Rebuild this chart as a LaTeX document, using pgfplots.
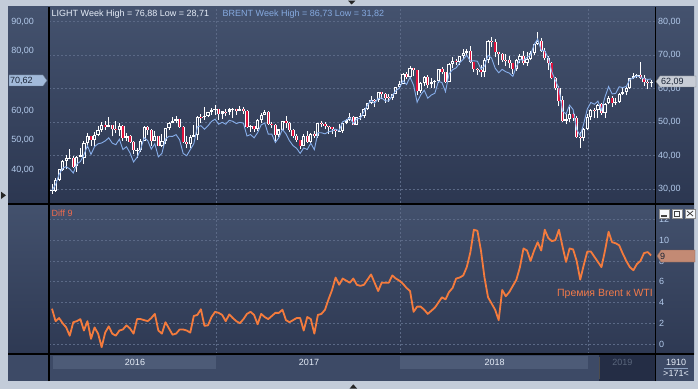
\documentclass[border=0pt]{standalone}
\usepackage{fontspec}
\setmainfont{Liberation Sans}
\usepackage{pgfplots}
\usepackage{pgfplotstable}
\pgfplotsset{compat=1.18}

\definecolor{outerc}{HTML}{C3CCD9}
\definecolor{ptop}{HTML}{44526E}
\definecolor{pbot}{HTML}{2C3751}
\definecolor{btop}{HTML}{43516D}
\definecolor{bbot}{HTML}{2E3953}
\definecolor{datec}{HTML}{3D4A66}
\definecolor{blockc}{HTML}{4D5B77}
\definecolor{y19c}{HTML}{242D45}
\definecolor{gridc}{HTML}{5B6986}
\definecolor{tickc}{HTML}{B2C9EA}
\definecolor{upin}{HTML}{35425E}
\definecolor{candred}{HTML}{E0123C}
\definecolor{brentc}{HTML}{87AEEA}
\definecolor{diffc}{HTML}{F47B3D}
\definecolor{lightlab}{HTML}{E6EDF8}
\definecolor{brentlab}{HTML}{86AAE0}
\definecolor{difflab}{HTML}{F06B4E}
\definecolor{premc}{HTML}{F27A4A}
\definecolor{marktext}{HTML}{1A2436}
\definecolor{markblue}{HTML}{A2BADA}
\definecolor{markgrey}{HTML}{C8CDD6}
\definecolor{marksalm}{HTML}{C38A74}

\pgfplotstableread{
i o h l c b d
0 29.44 31.50 28.71 29.64 33.04 3.40
1 29.60 33.30 29.30 32.78 34.98 2.20
2 32.80 36.20 32.40 35.92 38.42 2.50
3 35.90 38.70 35.50 38.50 40.50 2.00
4 38.50 40.20 36.00 39.44 41.04 1.60
5 39.40 41.90 38.90 39.46 40.26 0.80
6 39.40 39.90 36.30 36.79 38.89 2.10
7 36.90 39.90 35.20 39.72 41.92 2.20
8 39.70 42.40 39.60 40.36 42.76 2.40
9 39.40 44.50 37.60 43.73 45.03 1.30
10 43.70 46.80 42.30 45.92 48.12 2.20
11 45.90 46.00 43.00 44.66 45.16 0.50
12 44.70 47.00 43.00 46.21 47.81 1.60
13 46.20 48.90 45.80 47.75 48.75 1.00
14 47.80 50.20 47.20 49.33 49.03 -0.30
15 49.30 50.30 47.80 48.62 49.72 1.10
16 48.60 51.70 48.50 49.07 50.77 1.70
17 49.10 49.30 45.80 47.98 48.98 1.00
18 48.00 50.50 46.70 47.64 48.44 0.80
19 47.60 49.80 45.80 48.99 50.29 1.30
20 49.00 49.30 44.40 45.41 46.81 1.40
21 45.40 46.80 44.30 45.95 47.75 1.80
22 46.00 46.30 43.80 44.19 45.69 1.50
23 44.20 44.30 40.60 41.60 42.60 1.00
24 41.60 42.20 39.20 41.80 44.20 2.40
25 41.80 44.90 41.20 44.49 46.89 2.40
26 44.50 48.80 44.40 48.52 50.82 2.30
27 48.50 48.80 46.30 47.64 49.84 2.20
28 47.60 47.90 43.00 44.44 46.94 2.50
29 44.40 47.30 44.30 45.88 48.78 2.90
30 45.90 46.00 42.80 43.03 44.33 1.30
31 43.00 46.50 42.60 44.48 45.48 1.00
32 44.50 48.30 43.60 48.24 50.34 2.10
33 48.20 50.00 47.80 49.81 51.31 1.50
34 49.80 51.60 49.70 50.35 51.25 0.90
35 50.40 51.90 49.70 50.85 51.85 1.00
36 50.90 50.90 48.30 48.70 50.10 1.40
37 48.70 48.90 43.90 44.07 45.47 1.40
38 44.10 45.90 42.20 43.41 44.71 1.30
39 43.40 46.20 42.20 45.69 46.79 1.10
40 45.70 49.20 45.60 46.06 48.76 2.70
41 46.10 51.90 44.80 51.68 54.48 2.80
42 51.70 52.40 49.90 51.50 54.85 3.35
43 51.50 54.50 50.70 51.90 53.65 1.75
44 51.90 53.20 51.60 53.02 54.82 1.80
45 53.00 54.30 52.20 53.72 56.32 2.60
46 53.70 55.20 52.10 53.99 57.09 3.10
47 54.00 54.10 50.70 52.37 55.37 3.00
48 52.40 53.30 50.90 53.22 56.02 2.80
49 53.20 54.00 51.80 53.17 55.37 2.20
50 53.20 54.20 52.20 53.83 56.68 2.85
51 53.80 54.30 51.20 53.86 56.36 2.50
52 53.90 54.00 52.20 53.40 55.60 2.20
53 53.40 54.90 53.30 53.99 55.99 2.00
54 54.00 54.60 52.60 53.33 55.73 2.40
55 53.30 53.60 48.30 48.49 51.39 2.90
56 48.50 49.10 47.10 48.78 51.88 3.10
57 48.80 49.00 47.10 47.97 50.77 2.80
58 48.00 50.90 47.40 50.60 52.50 1.90
59 50.60 52.90 49.80 52.24 55.14 2.90
60 52.20 53.80 52.10 53.18 55.78 2.60
61 53.20 53.30 49.30 49.62 52.02 2.40
62 49.60 50.20 48.20 49.33 52.03 2.70
63 49.30 49.60 43.80 46.22 49.22 3.00
64 46.20 48.10 45.60 47.84 50.84 3.00
65 47.80 50.50 47.70 50.33 53.63 3.30
66 50.30 52.00 48.20 49.80 52.10 2.30
67 49.80 50.20 47.00 47.66 49.76 2.10
68 47.70 48.00 45.20 45.83 48.13 2.30
69 45.80 46.50 44.20 44.74 47.24 2.50
70 44.70 44.80 42.05 43.01 45.51 2.50
71 43.00 46.40 42.90 46.04 47.34 1.30
72 46.00 47.30 43.80 44.23 46.83 2.60
73 44.20 46.80 43.90 46.54 48.94 2.40
74 46.50 47.40 45.40 45.77 46.77 1.00
75 45.80 49.90 45.40 49.71 52.51 2.80
76 49.70 50.40 48.50 49.58 52.48 2.90
77 49.60 50.20 48.10 48.82 52.12 3.30
78 48.80 49.00 46.50 48.51 52.81 4.30
79 48.50 48.70 46.60 47.87 53.07 5.20
80 47.90 48.00 45.60 47.29 53.69 6.40
81 47.30 49.40 47.10 47.48 53.18 5.70
82 47.50 50.20 46.80 49.89 56.19 6.30
83 49.90 51.00 49.40 50.66 56.76 6.10
84 50.70 52.90 50.40 51.67 57.57 5.90
85 51.70 51.90 49.10 49.29 55.59 6.30
86 49.30 51.60 49.10 51.45 57.15 5.70
87 51.50 52.80 50.70 51.84 57.44 5.60
88 51.80 54.20 51.30 53.90 59.60 5.70
89 53.90 55.70 53.80 55.64 61.84 6.20
90 55.60 57.70 55.30 56.74 63.44 6.70
91 56.70 57.00 54.70 56.55 62.45 5.90
92 56.60 59.00 56.10 58.95 64.05 5.10
93 59.00 59.10 56.80 58.36 64.26 5.90
94 58.40 58.80 55.80 57.36 63.26 5.90
95 57.40 58.40 56.10 57.30 63.20 5.90
96 57.30 58.50 56.60 58.47 65.07 6.60
97 58.50 60.50 58.30 60.42 66.72 6.30
98 60.40 62.20 60.10 61.44 67.54 6.10
99 61.40 64.80 61.30 64.30 70.10 5.80
100 64.30 64.90 63.00 63.37 68.77 5.40
101 63.40 66.70 63.00 66.14 71.24 5.10
102 66.10 66.30 63.70 65.45 68.55 3.10
103 65.50 65.60 58.10 59.20 62.80 3.60
104 59.20 62.00 58.80 61.68 65.28 3.60
105 61.70 63.70 60.70 63.55 66.85 3.30
106 63.60 64.20 60.20 61.25 64.15 2.90
107 61.30 63.30 60.20 62.04 65.24 3.20
108 62.00 62.60 60.10 62.34 65.84 3.50
109 62.30 66.00 61.80 65.88 69.88 4.00
110 65.90 66.60 64.30 64.94 69.44 4.50
111 64.90 65.00 61.80 62.06 66.36 4.30
112 62.10 67.70 62.00 67.39 72.39 5.00
113 67.40 69.60 66.10 68.38 73.78 5.40
114 68.40 69.00 67.20 68.10 74.40 6.30
115 68.10 69.80 67.10 69.72 76.12 6.40
116 69.70 71.90 69.00 70.70 77.30 6.60
117 70.70 72.00 70.10 71.28 78.68 7.40
118 71.30 72.90 67.60 67.88 76.68 8.80
119 67.90 68.00 65.00 65.81 76.81 11.00
120 65.80 66.30 64.20 65.74 76.64 10.90
121 65.70 67.10 63.60 65.06 74.06 9.00
122 65.10 69.30 63.60 68.58 74.98 6.40
123 68.60 74.50 67.60 74.15 78.65 4.50
124 74.20 75.30 72.40 73.80 77.70 3.90
125 73.80 74.70 69.60 71.01 74.31 3.30
126 71.00 71.10 67.00 70.46 72.76 2.30
127 70.50 70.60 68.00 68.69 73.89 5.20
128 68.70 70.50 66.90 68.49 73.09 4.60
129 68.50 69.90 66.30 67.63 72.63 5.00
130 67.60 67.80 64.40 65.91 71.51 5.60
131 65.90 68.90 65.40 68.72 74.92 6.20
132 68.70 70.40 67.80 69.80 77.20 7.40
133 69.80 71.40 67.00 67.75 76.95 9.20
134 67.80 71.00 66.90 68.99 77.99 9.00
135 69.00 71.40 68.50 70.78 78.78 8.00
136 70.80 73.40 70.10 73.25 82.25 9.00
137 73.30 76.88 73.00 74.34 84.14 9.80
138 74.30 75.20 70.90 71.34 80.34 9.00
139 71.30 72.30 68.50 69.12 80.12 11.00
140 69.10 69.70 65.70 67.59 77.79 10.20
141 67.60 68.00 62.80 63.14 73.04 9.90
142 63.10 63.60 59.50 60.19 70.19 10.00
143 60.20 60.80 54.80 56.46 67.46 11.00
144 56.50 57.90 50.20 50.42 59.82 9.40
145 50.40 52.40 49.40 50.93 58.83 7.90
146 50.90 54.60 50.10 52.61 61.81 9.20
147 52.60 52.90 50.30 51.20 60.30 9.10
148 51.20 51.90 45.30 45.59 53.59 8.00
149 45.60 47.10 42.36 45.33 51.53 6.20
150 45.30 48.30 44.40 47.96 55.56 7.60
151 48.00 52.50 47.60 51.59 60.49 8.90
152 51.60 54.00 50.70 53.80 62.70 8.90
153 53.80 54.20 51.30 53.69 62.09 8.40
154 53.70 55.40 51.30 55.26 63.16 7.90
155 55.30 55.80 52.10 52.72 60.12 7.40
156 52.70 55.80 51.20 55.59 64.59 9.00
157 55.60 57.80 55.30 57.26 68.06 10.80
158 57.30 57.90 54.50 55.80 65.60 9.80
159 55.80 57.10 55.10 56.07 65.77 9.70
160 56.10 58.80 55.80 58.52 68.02 9.50
161 58.50 60.40 58.20 59.04 67.74 8.70
162 59.00 60.40 58.00 60.14 68.14 8.00
163 60.10 63.10 60.00 63.08 70.48 7.40
164 63.10 64.80 63.00 63.89 70.99 7.10
165 63.90 64.50 63.10 64.00 71.70 7.70
166 64.00 67.90 63.00 63.30 71.30 8.00
167 63.30 64.10 60.90 61.94 70.69 8.75
168 61.90 63.00 60.00 61.66 70.51 8.85
169 61.70 62.60 60.60 62.09 70.62 8.53
}\data

\pgfplotsset{
  panel/.style={
    scale only axis, anchor=south west, width=606pt,
    xmin=-0.85, xmax=170.1,
    axis line style={draw=none},
    tick style={draw=none},
    major tick length=0pt,
    grid style={gridc, dash pattern=on 2pt off 2pt, line width=0.6pt},
    ticklabel style={font=\fontsize{9}{10}\selectfont, text=tickc, inner sep=0pt},
  }
}

\begin{document}
\begin{tikzpicture}
\useasboundingbox (0pt,0pt) rectangle (698pt,389pt);
\fill[outerc] (0pt,0pt) rectangle (698pt,389pt);
\shade[top color=ptop, bottom color=pbot] (8pt,186pt) rectangle (694pt,382pt);
\shade[top color=btop, bottom color=bbot] (8pt,35pt) rectangle (694pt,185pt);
\fill[datec] (8pt,8pt) rectangle (694pt,35pt);
\fill[blockc] (53pt,20pt) rectangle (216pt,33pt);
\fill[blockc] (400pt,20pt) rectangle (588pt,33pt);
\fill[y19c] (599pt,8pt) rectangle (655pt,35pt);
\draw[black!70, line width=1pt] (599pt,10pt) -- (599pt,32pt);

% candles (WTI, right scale)
\begin{axis}[panel, at={(49pt,186pt)}, height=196pt, ymin=25.91, ymax=84.39,
  xtick={46.46,98.25,151.3}, xticklabels={}, xmajorgrids,
  ytick={30,40,50,60,70,80}, yticklabels={{30,00},{40,00},{50,00},{60,00},{70,00},{80,00}},
  ymajorgrids, yticklabel pos=right, yticklabel style={anchor=west, xshift=3pt}]
\addplot[white, line width=0.9pt, -, quiver={u=0, v=\thisrow{h}-\thisrow{l}}] table[x=i, y=l] {\data};
\addplot[white, line width=3.2pt, -, quiver={u=0, v=\thisrow{c}-\thisrow{o}}] table[x=i, y=o] {\data};
\addplot[upin, line width=1.2pt, -, quiver={u=0, v=\thisrow{c}-\thisrow{o}-0.6},
  restrict expr to domain={\thisrow{c}-\thisrow{o}}{0.9:100}] table[x=i, y expr=\thisrow{o}+0.3] {\data};
\addplot[candred, line width=1.4pt, -, quiver={u=0, v=\thisrow{c}-\thisrow{o}},
  restrict expr to domain={\thisrow{c}-\thisrow{o}}{-100:-0.001}] table[x=i, y=o] {\data};
\end{axis}

% Brent line (left scale)
\begin{axis}[panel, at={(49pt,186pt)}, height=196pt, ymin=28.75, ymax=94.97,
  xtick=\empty, ytick={40,50,60,70,80,90},
  yticklabels={{40,00},{50,00},{60,00},{70,00},{80,00},{90,00}},
  yticklabel pos=left, yticklabel style={anchor=east, xshift=-15pt}]
\addplot[brentc, line width=0.9pt, mark=none] table[x=i, y=b] {\data};
\end{axis}

% Diff panel
\begin{axis}[panel, at={(49pt,35pt)}, height=149pt, ymin=-0.96, ymax=13.38,
  xtick={46.46,98.25,151.3}, xticklabels={}, xmajorgrids,
  ytick={0,2,4,6,8,10,12}, yticklabels={0,2,4,6,8,10,12},
  ymajorgrids, yticklabel pos=right, yticklabel style={anchor=west, xshift=4pt}]
\addplot[diffc, line width=1.8pt, mark=none, line join=round] table[x=i, y=d] {\data};
\end{axis}

% frame lines
\draw[black, line width=1.2pt] (49pt,8pt) -- (49pt,382pt);
\draw[black, line width=1.2pt] (655.5pt,8pt) -- (655.5pt,382pt);
\draw[black, line width=2.2pt] (8pt,185pt) -- (694pt,185pt);
\draw[black, line width=1.2pt] (8pt,35pt) -- (694pt,35pt);

% small triangles
\fill[black!85] (348pt,388.3pt) -- (355.3pt,388.3pt) -- (351.7pt,384.5pt) -- cycle;
\fill[black!85] (349.7pt,0.5pt) -- (357pt,0.5pt) -- (353.3pt,4.7pt) -- cycle;
\fill[black!85] (1pt,197.3pt) -- (1pt,190pt) -- (6pt,193.7pt) -- cycle;

% texts
\begin{scope}[every node/.style={inner sep=0pt, font=\fontsize{9}{10}\selectfont}]
\node[anchor=west, text=lightlab] at (51.5pt,374.5pt) {LIGHT Week High = 76,88 Low = 28,71};
\node[anchor=west, text=brentlab] at (222.5pt,374.5pt) {BRENT Week High = 86,73 Low = 31,82};
\node[anchor=west, text=difflab] at (51.5pt,176pt) {Diff 9};
\node[anchor=east, text=premc, font=\fontsize{10.5}{12}\selectfont] at (653pt,95pt) {Премия Brent к WTI};
\node[text=lightlab] at (135pt,26.5pt) {2016};
\node[text=lightlab] at (309pt,26.5pt) {2017};
\node[text=lightlab] at (494.7pt,26.5pt) {2018};
\node[text=black!50!tickc!60!gridc] at (622.3pt,26.5pt) {2019};
\node[text=lightlab] at (676pt,27pt) {1910};
\node[text=lightlab] at (676pt,15.5pt) {>171<};
\end{scope}
\draw[tickc!60!gridc, line width=0.6pt] (664pt,21pt) -- (688pt,21pt);

% value markers
\filldraw[fill=markblue, draw=markblue!60!black, line width=0.4pt]
  (9pt,314pt) -- (43pt,314pt) -- (47pt,308.5pt) -- (43pt,303pt) -- (9pt,303pt) -- cycle;
\node[anchor=west, inner sep=0pt, text=marktext, font=\fontsize{9}{10}\selectfont] at (10pt,308.5pt) {70,62};
\filldraw[fill=markgrey, draw=markgrey!60!black, line width=0.4pt]
  (656pt,307.5pt) -- (660pt,313pt) -- (696pt,313pt) -- (696pt,302pt) -- (660pt,302pt) -- cycle;
\node[anchor=west, inner sep=0pt, text=marktext, font=\fontsize{9}{10}\selectfont] at (661pt,307.5pt) {62,09};
\filldraw[fill=marksalm, draw=marksalm!70!black, line width=0.4pt]
  (657pt,133pt) -- (661pt,139pt) -- (695pt,139pt) -- (695pt,127pt) -- (661pt,127pt) -- cycle;
\node[anchor=west, inner sep=0pt, text=marktext, font=\fontsize{9}{10}\selectfont] at (660pt,133pt) {9};

% window buttons
\foreach \xa in {659,672,685} {
  \filldraw[fill=white!88!tickc, draw=black!45, line width=0.5pt] (\xa pt,171pt) rectangle ++(10pt,9pt);
}
\draw[black!75, line width=1.4pt] (661pt,173pt) -- (667pt,173pt);
\draw[black!75, line width=0.8pt] (674pt,173pt) rectangle (679pt,178pt);
\draw[black!75, line width=0.8pt] (687pt,173pt) -- (693pt,178pt) (687pt,178pt) -- (693pt,173pt);
\end{tikzpicture}
\end{document}
